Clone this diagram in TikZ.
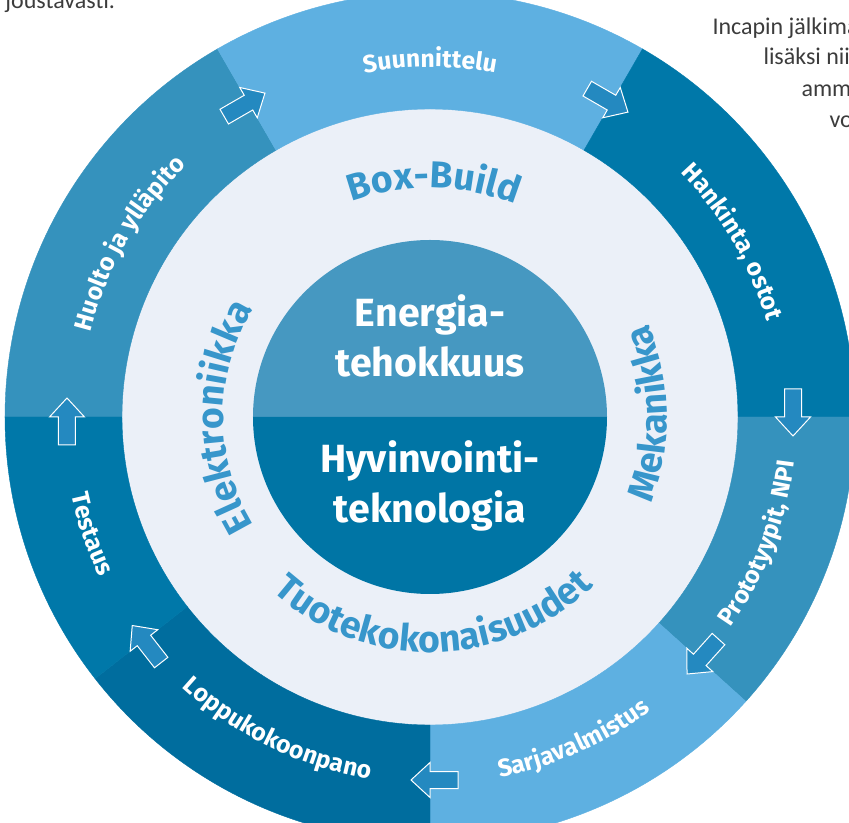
\documentclass[tikz,border=0pt]{standalone}
\usepackage{fontspec}
\setmainfont{Fira Sans}
\newfontfamily\pagefont{Carlito}
\usetikzlibrary{decorations.text}

\definecolor{segLight}{RGB}{94,176,225}
\definecolor{segMid}{RGB}{53,146,189}
\definecolor{segDark}{RGB}{0,120,169}
\definecolor{segDeep}{RGB}{0,109,158}
\definecolor{ringFill}{RGB}{235,240,248}
\definecolor{ringText}{RGB}{55,150,203}
\definecolor{coreTop}{RGB}{70,152,193}
\definecolor{coreBottom}{RGB}{0,117,165}
\definecolor{arrowFill}{RGB}{36,137,192}
\definecolor{pageGray}{RGB}{60,60,60}

\tikzset{every picture/.style={line width=0.75pt}}
\tikzset{
  flowarrow/.style={fill=arrowFill, draw=white, line width=0.75pt},
  coretext/.style={text=white, font=\bfseries\fontsize{29.5}{32}\selectfont, inner sep=0pt, anchor=base},
  pagetext/.style={text=pageGray, font=\pagefont\fontsize{18}{20}\selectfont, inner sep=0pt, anchor=base west}
}
% curved label: radius, start angle, end angle, format, text
\newcommand\arclabel[5]{%
  \path[decorate, decoration={text along path, text align=center, text={|#4|#5}}]
    (#2:#1) arc[start angle=#2, end angle=#3, radius=#1];}
\newcommand\segfont{\color{white}\bfseries\fontsize{18.5}{20}\selectfont}
\newcommand\ringfont{\color{ringText}\bfseries\fontsize{28}{32}\selectfont}

\begin{document}
\begin{tikzpicture}[x=0.75pt,y=0.75pt]
\useasboundingbox (-430,-406) rectangle (419,417);
\clip (-430,-406) rectangle (419,417);

%Shape: Circle [light ring]
\fill[ringFill] (0,0) circle[radius=310];
%Shape: Ring segments
\foreach \a/\b/\c in {120/180/segMid, 60/120/segLight, 0/60/segDark, -42/0/segMid, -90/-42/segLight, -142/-90/segDeep, -180/-142/segDark}
  \filldraw[fill=\c, draw=\c, line width=0.3pt] (\a:308) arc[start angle=\a, end angle=\b, radius=308] -- (\b:425) arc[start angle=\b, end angle=\a, radius=425] -- cycle;
%Shape: Core halves
\fill[coreTop] (177,0) arc[start angle=0, end angle=180, radius=177] -- cycle;
\fill[coreBottom] (-177,0) arc[start angle=180, end angle=360, radius=177] -- cycle;

%Shape: Arrows between segments
\foreach \a in {180,120,60,0,-42,-90,-142}
  \draw[flowarrow, shift={(\a:363)}, rotate={\a-90}] (-28,-8.5) -- (0,-8.5) -- (0,-17.5) -- (19,0) -- (0,17.5) -- (0,8.5) -- (-28,8.5) -- cycle;

% Segment labels
\arclabel{350}{200}{100}{\segfont}{Huolto ja ylläpito}
\arclabel{350}{140}{40}{\segfont}{Suunnittelu}
\arclabel{350}{80}{-20}{\segfont}{Hankinta, ostot}
\arclabel{367}{-71}{29}{\segfont}{Prototyypit, NPI}
\arclabel{367}{-116}{-16}{\segfont}{Sarjavalmistus}
\arclabel{367}{-166}{-66}{\segfont}{Loppukokoonpano}
\arclabel{367}{-211}{-111}{\segfont}{Testaus}

% Ring labels
\arclabel{229}{149}{29}{\ringfont}{Box-Build}
\arclabel{207}{250}{110}{\ringfont}{Elektroniikka}
\arclabel{237}{-69}{71}{\ringfont}{Mekanikka}
\arclabel{235}{-169}{-9}{\ringfont}{Tuotekokonaisuudet}

% Text Node
\node[coretext] (energia) at (0,90) {Energia-};
\node[coretext] (tehokkuus) at (0,40) {tehokkuus};
\node[coretext] (hyvinvointi) at (0,-56) {Hyvinvointi-};
\node[coretext] (teknologia) at (0,-106) {teknologia};

% Text Node
\node[pagetext] (joustavasti) at (-425,408) {joustavasti.};
\node[pagetext] (line1) at (282,382) {Incapin jälkima};
\node[pagetext] (line2) at (333,352) {lisäksi niid};
\node[pagetext] (line3) at (371,320) {amm};
\node[pagetext] (line4) at (399,289) {vo};

\end{tikzpicture}
\end{document}
